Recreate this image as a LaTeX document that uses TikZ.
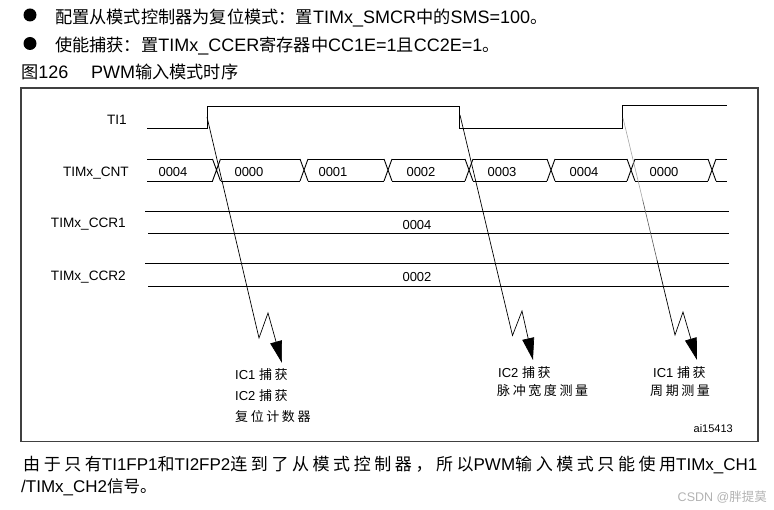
\documentclass[tikz,border=0pt]{standalone}
\usepackage{fontspec}
\setmainfont{Liberation Sans}
\newfontfamily\cjkplain{Noto Sans CJK SC}
\newfontfamily\cjklbl[LetterSpace=20]{Noto Sans CJK SC}
\newfontfamily\cjkbody[LetterSpace=21]{Noto Sans CJK SC}
\usetikzlibrary{arrows.meta}
\newcommand\HdCJ[1]{{\cjkplain\fontsize{17.2}{20}\selectfont #1}}
\newcommand\LbCJ[1]{{\cjklbl\fontsize{13}{15}\selectfont #1}}
\newcommand\BdCJ[1]{{\cjkbody\fontsize{17}{19}\selectfont #1}}
\newcommand\BnCJ[1]{{\cjkplain\fontsize{16.5}{19}\selectfont #1}}
\begin{document}
\begin{tikzpicture}[x=1pt,y=-1pt,
  sig/.style={line width=0.9pt, black},
  capline/.style={line width=0.7pt, black, -{Triangle[length=22pt,width=12pt]}},
  txt/.style={inner sep=0pt, font=\fontsize{13}{15}\selectfont},
  sname/.style={inner sep=0pt, font=\fontsize{13.6}{15}\selectfont, anchor=base east},
  head/.style={inner sep=0pt, font=\fontsize{18}{21}\selectfont},
  body/.style={inner sep=0pt, font=\fontsize{17}{20}\selectfont}]
\useasboundingbox (0,0) rectangle (774,510);

% header
\fill (30,15) circle (6.5);
\fill (30,43.5) circle (6.5);
\node[head, anchor=base west] (h1) at (55,24)
  {\HdCJ{配置从模式控制器为复位模式：置}TIMx\_SMCR\HdCJ{中的}SMS=100\HdCJ{。}};
\node[head, anchor=base west] (h2) at (55,51.5)
  {\HdCJ{使能捕获：置}TIMx\_CCER\HdCJ{寄存器中}CC1E=1\HdCJ{且}CC2E=1\HdCJ{。}};
\node[head, anchor=base west] (h3) at (21,79) {\HdCJ{图}126};
\node[head, anchor=base west] (h4) at (91,79) {PWM\HdCJ{输入模式时序}};

% frame
\draw[line width=1.6pt, black!75] (21,88.3) rectangle (758,441.7);

% signal labels
\node[sname] (lti) at (127,124.3) {TI1};
\node[sname] (lcnt) at (129,176.7) {TIMx\_CNT};
\node[sname] (lc1) at (126,227.7) {TIMx\_CCR1};
\node[sname] (lc2) at (126,281) {TIMx\_CCR2};

% TI1
\draw[sig] (147,128) -- (207,128) -- (207,106) -- (459,106) -- (459,128)
  -- (622.5,128) -- (622.5,105.5) -- (727,105.5);

% CNT bus
\def\bt{159}\def\bb{181}\def\hw{4}
\draw[sig] (147,\bt) -- (216.5-\hw,\bt) (147,\bb) -- (216.5-\hw,\bb);
\foreach \a/\b in {216.5/304, 304/388, 388/469, 469/551, 551/631, 631/712}
  {\draw[sig] (\a+\hw,\bt) -- (\b-\hw,\bt) (\a+\hw,\bb) -- (\b-\hw,\bb);}
\foreach \c in {216.5,304,388,469,551,631,712}
  {\draw[sig] (\c-\hw,\bt) -- (\c+\hw,\bb) (\c-\hw,\bb) -- (\c+\hw,\bt);}
\draw[sig] (712+\hw,\bt) -- (727,\bt) (712+\hw,\bb) -- (727,\bb);
\foreach \x/\v/\n in {173/0004/v1, 249/0000/v2, 333/0001/v3, 421/0002/v4,
  502/0003/v5, 584/0004/v6, 664/0000/v7}
  {\node[txt, anchor=base] (\n) at (\x,176.7) {\v};}

% CCR registers
\draw[sig] (145,211) -- (729,211) (148,233) -- (729,233);
\draw[sig] (145,263) -- (729,263) (148,286) -- (729,286);
\node[txt, anchor=base] (r1) at (417,229.5) {0004};
\node[txt, anchor=base] (r2) at (417,282) {0002};

% capture arrows
\coordinate (a1s) at (207,117);
\coordinate (a1z) at (259,338);
\coordinate (a1y) at (268,313);
\coordinate (a1t) at (282,363);
\draw[capline] (a1s) -- (a1z) -- (a1y) -- (a1t);

\coordinate (a2s) at (460,115);
\coordinate (a2z) at (512.5,335.5);
\coordinate (a2y) at (522,311);
\coordinate (a2t) at (533,360);
\draw[capline] (a2s) -- (a2z) -- (a2y) -- (a2t);

\coordinate (a3s) at (623,118);
\coordinate (a3m) at (642.7,200);
\coordinate (a3n) at (657,260);
\coordinate (a3z) at (675,335);
\coordinate (a3y) at (683,312);
\coordinate (a3t) at (697,360);
\draw[line width=0.6pt, black!35] (a3s) -- (a3m);
\draw[line width=0.6pt, black!65] (a3m) -- (a3n);
\draw[capline] (a3n) -- (a3z) -- (a3y) -- (a3t);

% capture labels
\node[txt, anchor=base west] (c1a) at (235,380) {IC1 \LbCJ{捕获}};
\node[txt, anchor=base west] (c1b) at (235,401) {IC2 \LbCJ{捕获}};
\node[txt, anchor=base west] (c1c) at (235,422) {\LbCJ{复位计数器}};
\node[txt, anchor=base west] (c2a) at (498,378) {IC2 \LbCJ{捕获}};
\node[txt, anchor=base west] (c2b) at (497,396) {\LbCJ{脉冲宽度测量}};
\node[txt, anchor=base west] (c3a) at (653,378) {IC1 \LbCJ{捕获}};
\node[txt, anchor=base west] (c3b) at (650,396) {\LbCJ{周期测量}};
\node[inner sep=0pt, font=\fontsize{11}{13}\selectfont, anchor=base east] (ai) at (733,432) {ai15413};

% bottom text
\node[body, anchor=base west] (b1) at (23,471)
  {\BdCJ{由于只有}TI1FP1\BdCJ{和}TI2FP2\BdCJ{连到了从模式控制器，所以}PWM\BdCJ{输入模式只能使用}TIMx\_CH1};
\node[body, anchor=base west] (b2) at (21,493) {/TIMx\_CH2\BnCJ{信号。}};
\node[inner sep=0pt, text=black!30, font=\fontsize{12.5}{14}\selectfont, anchor=base east] (wm) at (767,501.5)
  {CSDN @{\cjkplain 胖提莫}};
\end{tikzpicture}
\end{document}
